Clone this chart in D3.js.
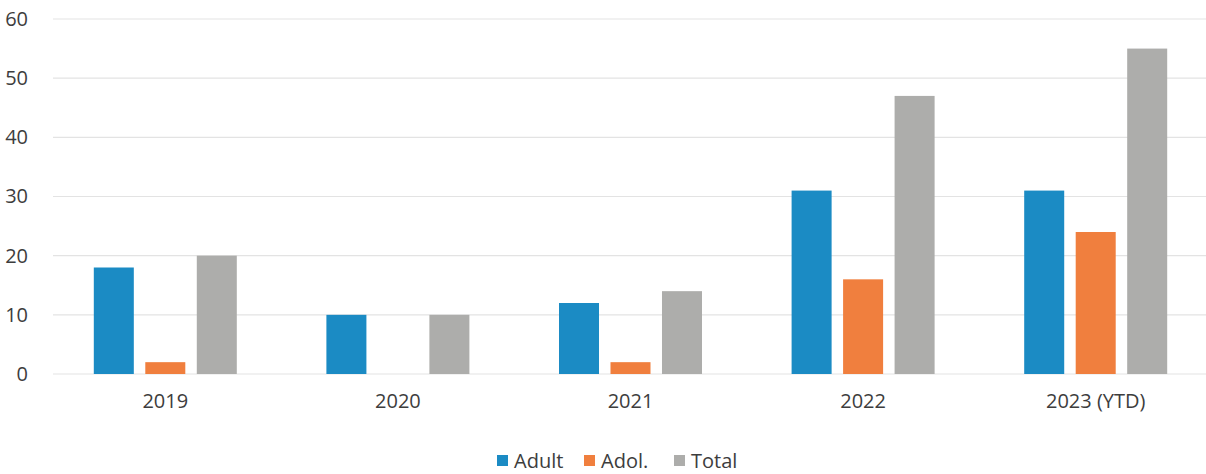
<!DOCTYPE html>
<html>
<head>
<meta charset="utf-8">
<script src="https://cdn.jsdelivr.net/npm/d3@7"></script>
<style>
  html, body { margin: 0; padding: 0; background: #ffffff; }
  svg { display: block; font-family: "Open Sans", Lato, sans-serif; }
</style>
</head>
<body>
<svg id="chart" width="1206" height="474"></svg>
<script>
// Case counts by year and group
const categories = ["2019", "2020", "2021", "2022", "2023 (YTD)"];
const seriesNames = ["Adult", "Adol.", "Total"];
const adult = [18, 10, 12, 31, 31];
const adol  = [2, 0, 2, 16, 24];
const total = [20, 10, 14, 47, 55];
const yTicks = [0, 10, 20, 30, 40, 50, 60];
const colors = ["#1b8bc4", "#f07f3e", "#adadab"];

const seriesValues = [adult, adol, total];
const rows = categories.map((c, i) => ({
  category: c,
  values: seriesNames.map((s, k) => ({ series: s, value: seriesValues[k][i] }))
}));

const textColor = "#3d3d3d";
const fontSize = 20;

const svg = d3.select("#chart");

const y = d3.scaleLinear().domain([0, 60]).range([374, 19]);
const x0 = d3.scaleBand().domain(categories).range([49, 1212]);
const x1 = d3.scaleBand().domain(seriesNames).range([-71.5, 71.5]).paddingInner(0.223);
const color = d3.scaleOrdinal().domain(seriesNames).range(colors);

// Horizontal gridlines
svg.append("g")
  .selectAll("line")
  .data(yTicks)
  .join("line")
  .attr("x1", 53)
  .attr("x2", 1206)
  .attr("y1", d => y(d))
  .attr("y2", d => y(d))
  .attr("stroke", "#e3e3e3")
  .attr("stroke-width", 1.2);

// Y axis labels
const yAxis = d3.axisLeft(y).tickValues(yTicks).tickSize(0).tickPadding(0);
svg.append("g")
  .attr("transform", "translate(28,0)")
  .call(yAxis)
  .call(g => g.select(".domain").remove())
  .call(g => g.selectAll("text")
    .attr("fill", textColor)
    .attr("font-size", fontSize)
    .attr("font-family", "'Open Sans', Lato, sans-serif"));

// Bars
const groups = svg.append("g")
  .selectAll("g")
  .data(rows)
  .join("g")
  .attr("transform", d => `translate(${x0(d.category) + x0.bandwidth() / 2},0)`);

groups.selectAll("rect")
  .data(d => d.values)
  .join("rect")
  .attr("x", d => x1(d.series))
  .attr("width", x1.bandwidth())
  .attr("y", d => y(d.value))
  .attr("height", d => y(0) - y(d.value))
  .attr("fill", d => color(d.series));

// X axis labels
const xAxis = d3.axisBottom(x0).tickSize(0).tickPadding(0);
svg.append("g")
  .attr("transform", "translate(0,394)")
  .call(xAxis)
  .call(g => g.select(".domain").remove())
  .call(g => g.selectAll("text")
    .attr("fill", textColor)
    .attr("font-size", fontSize)
    .attr("font-family", "'Open Sans', Lato, sans-serif"));

// Legend
const legendX = [497, 584, 674];
const legend = svg.append("g")
  .selectAll("g")
  .data(seriesNames)
  .join("g")
  .attr("transform", (d, i) => `translate(${legendX[i]},461)`);

legend.append("rect")
  .attr("x", 0)
  .attr("y", -6)
  .attr("width", 11)
  .attr("height", 11)
  .attr("fill", d => color(d));

legend.append("text")
  .attr("x", 17)
  .attr("y", 0)
  .attr("dy", "0.35em")
  .attr("fill", textColor)
  .attr("font-size", fontSize)
  .text(d => d);
</script>
</body>
</html>
